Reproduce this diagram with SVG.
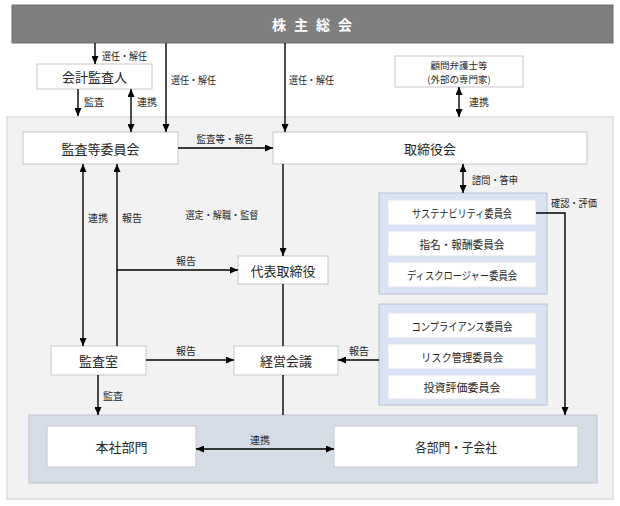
<svg xmlns="http://www.w3.org/2000/svg" width="620" height="506" viewBox="0 0 620 506">
<defs>
<marker id="ah" viewBox="0 0 8 7" markerWidth="8" markerHeight="7" refX="8" refY="3.5" orient="auto-start-reverse" markerUnits="userSpaceOnUse">
<path d="M0,0 L8,3.5 L0,7 z" fill="#000"/>
</marker>
<style>
text{font-family:"Noto Sans CJK JP","Noto Sans",sans-serif;fill:#262626}
.box{fill:#fff;stroke:#c6c6c6;stroke-width:1}
.grp{fill:#dae3f3;stroke:#b8c2d2;stroke-width:1}
.cbox{fill:#fff;stroke:#dfe5ee;stroke-width:1}
.t{font-size:13px;text-anchor:middle;dominant-baseline:central}
.c{font-size:11px;text-anchor:middle;dominant-baseline:central}
.l{font-size:10px}
.lm{font-size:10px;text-anchor:middle}
.ln{fill:none;stroke:#000;stroke-width:1.4}
.a{marker-end:url(#ah)}
.d{marker-start:url(#ah);marker-end:url(#ah)}
</style>
</defs>
<rect x="0" y="0" width="620" height="506" fill="#fff"/>
<rect id="outer" x="7" y="117" width="606" height="382" fill="#f2f2f2" stroke="#cfcfcf"/>
<g id="shareholders">
<rect x="12" y="5" width="601" height="38" fill="#7f7f7f" stroke="#6f6f6f"/>
<text x="316" y="24" style="font-size:14px;font-weight:bold;fill:#fff;text-anchor:middle;dominant-baseline:central;letter-spacing:8px">株主総会</text>
</g>
<g id="auditor">
<rect class="box" x="37" y="64" width="115" height="25"/>
<text class="t" x="94.5" y="76.5">会計監査人</text>
</g>
<g id="advisors">
<rect class="box" x="395" y="56" width="128" height="31"/>
<text class="c" x="459" y="64.5" style="font-size:9.5px">顧問弁護士等</text>
<text class="c" x="459" y="78.5" style="font-size:9.5px">(外部の専門家)</text>
</g>
<g id="audit-committee">
<rect class="box" x="23" y="132" width="155" height="32"/>
<text class="t" x="100.5" y="148">監査等委員会</text>
</g>
<g id="board">
<rect class="box" x="273" y="132" width="314" height="32"/>
<text class="t" x="430" y="148">取締役会</text>
</g>
<g id="committees1">
<rect class="grp" x="379" y="193" width="168" height="101"/>
<rect class="cbox" x="388" y="200" width="148" height="25"/>
<text class="c" x="462" y="212.5" textLength="100" lengthAdjust="spacingAndGlyphs">サステナビリティ委員会</text>
<rect class="cbox" x="388" y="231" width="148" height="25"/>
<text class="c" x="462" y="243.5" textLength="85" lengthAdjust="spacingAndGlyphs">指名・報酬委員会</text>
<rect class="cbox" x="388" y="262" width="148" height="25"/>
<text class="c" x="462" y="274.5" textLength="110" lengthAdjust="spacingAndGlyphs">ディスクロージャー委員会</text>
</g>
<g id="committees2">
<rect class="grp" x="379" y="304" width="168" height="101"/>
<rect class="cbox" x="388" y="313" width="148" height="25"/>
<text class="c" x="462" y="325.5" textLength="101" lengthAdjust="spacingAndGlyphs">コンプライアンス委員会</text>
<rect class="cbox" x="388" y="344" width="148" height="25"/>
<text class="c" x="462" y="356.5" textLength="82" lengthAdjust="spacingAndGlyphs">リスク管理委員会</text>
<rect class="cbox" x="388" y="375" width="148" height="24"/>
<text class="c" x="462" y="387">投資評価委員会</text>
</g>
<g id="ceo">
<rect class="box" x="238" y="256" width="90" height="28"/>
<text class="t" x="283" y="270">代表取締役</text>
</g>
<g id="audit-office">
<rect class="box" x="51" y="346" width="95" height="29"/>
<text class="t" x="98.5" y="360.5">監査室</text>
</g>
<g id="mgmt">
<rect class="box" x="234" y="346" width="104" height="29"/>
<text class="t" x="286" y="360.5">経営会議</text>
</g>
<g id="divisions">
<rect x="29" y="415" width="568" height="68" fill="#d6dce5" stroke="#bcc4d0"/>
<rect class="box" x="47" y="426" width="149" height="41" stroke="#e0e0e0"/>
<text class="t" x="121.5" y="446.5">本社部門</text>
<rect class="box" x="334" y="426" width="244" height="41" stroke="#e0e0e0"/>
<text class="t" x="456" y="446.5" textLength="82" lengthAdjust="spacingAndGlyphs">各部門・子会社</text>
</g>
<g id="connectors">
<path class="ln a" d="M95,43 V64"/>
<text class="l" x="102" y="60" textLength="45" lengthAdjust="spacingAndGlyphs">選任・解任</text>
<path class="ln a" d="M166,43 V132"/>
<text class="l" x="171" y="84" textLength="45" lengthAdjust="spacingAndGlyphs">選任・解任</text>
<path class="ln a" d="M285,43 V132"/>
<text class="l" x="289" y="84" textLength="45" lengthAdjust="spacingAndGlyphs">選任・解任</text>
<path class="ln a" d="M78,89 V116"/>
<text class="l" x="84" y="106">監査</text>
<path class="ln d" d="M131,89 V132"/>
<text class="l" x="137" y="106">連携</text>
<path class="ln d" d="M459,87 V117"/>
<text class="l" x="469" y="106">連携</text>
<path class="ln a" d="M178,148 H273"/>
<text class="lm" x="225" y="143" textLength="57" lengthAdjust="spacingAndGlyphs">監査等・報告</text>
<path class="ln d" d="M463,164 V193"/>
<text class="l" x="472" y="184" textLength="46" lengthAdjust="spacingAndGlyphs">諮問・答申</text>
<path class="ln a" d="M283,164 V256"/>
<text class="lm" x="222" y="219" textLength="73" lengthAdjust="spacingAndGlyphs">選定・解職・監督</text>
<path class="ln d" d="M83,164 V346"/>
<text class="l" x="88" y="222">連携</text>
<path class="ln a" d="M117,346 V164"/>
<text class="l" x="122" y="222">報告</text>
<path class="ln a" d="M117,270 H238"/>
<text class="lm" x="186" y="265">報告</text>
<path class="ln" d="M283,284 V346"/>
<path class="ln a" d="M146,360 H234"/>
<text class="lm" x="186" y="355">報告</text>
<path class="ln a" d="M379,360 H338"/>
<text class="lm" x="359" y="355">報告</text>
<path class="ln" d="M283,375 V415"/>
<path class="ln a" d="M98,375 V415"/>
<text class="l" x="103" y="400">監査</text>
<path class="ln d" d="M196,449 H334"/>
<text class="lm" x="260" y="444">連携</text>
<path class="ln a" d="M536,213 H565 V415"/>
<text class="l" x="551" y="207" textLength="46" lengthAdjust="spacingAndGlyphs">確認・評価</text>
</g>
</svg>
